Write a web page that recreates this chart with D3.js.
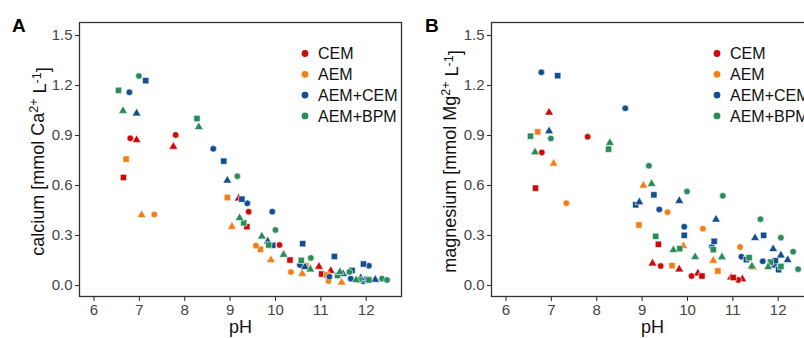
<!DOCTYPE html>
<html>
<head>
<meta charset="utf-8">
<script src="https://cdn.jsdelivr.net/npm/d3@7"></script>
<style>
  html, body { margin: 0; padding: 0; background: #fff; }
  svg { display: block; font-family: "Liberation Sans", Arial, sans-serif; }
</style>
</head>
<body>
<svg id="chart" width="804" height="338"></svg>
<script>
// ---------------- DATA ----------------
const groups = ["CEM", "AEM", "AEM+CEM", "AEM+BPM"];
const groupColors = ["#CC0A0A", "#F37E15", "#124E90", "#2A8C58"];
const xTicks = [6, 7, 8, 9, 10, 11, 12];
const yTicks = [0.0, 0.3, 0.6, 0.9, 1.2, 1.5];
const yTickLabels = ["0.0", "0.3", "0.6", "0.9", "1.2", "1.5"];
// each record: [shape, pH, concentration]  (c = circle, t = triangle, s = square)
const caCEM = [
  ["c", 6.81, 0.88], ["c", 7.81, 0.90], ["c", 9.42, 0.44], ["c", 10.1, 0.24],
  ["t", 6.95, 0.87], ["t", 7.76, 0.83], ["t", 9.2, 0.52], ["t", 10.97, 0.11], ["t", 11.23, 0.085],
  ["s", 6.66, 0.645], ["s", 9.38, 0.35], ["s", 10.33, 0.15], ["s", 11.03, 0.066]
];
const caAEM = [
  ["s", 6.72, 0.755], ["s", 8.95, 0.525], ["s", 9.68, 0.214], ["s", 10.68, 0.116], ["s", 11.14, 0.06],
  ["t", 7.06, 0.42], ["t", 9.05, 0.35], ["t", 9.91, 0.15], ["t", 10.6, 0.068], ["t", 11.47, 0.015],
  ["c", 7.34, 0.423], ["c", 9.58, 0.236], ["c", 10.35, 0.078], ["c", 11.18, 0.024]
];
const caAEMCEM = [
  ["c", 6.79, 1.156], ["c", 8.64, 0.817], ["c", 9.39, 0.49], ["c", 9.94, 0.44], ["c", 10.55, 0.12],
  ["c", 11.2, 0.05], ["c", 11.67, 0.038], ["c", 11.94, 0.022], ["c", 12.07, 0.115],
  ["s", 7.15, 1.226], ["s", 8.87, 0.743], ["s", 9.27, 0.515], ["s", 9.95, 0.238], ["s", 10.61, 0.248],
  ["s", 11.31, 0.171], ["s", 11.7, 0.087], ["s", 11.95, 0.126], ["s", 12.03, 0.034],
  ["t", 6.95, 1.03], ["t", 8.95, 0.627], ["t", 9.84, 0.262], ["t", 10.66, 0.108], ["t", 11.5, 0.066],
  ["t", 11.89, 0.042], ["t", 12.21, 0.032]
];
const caAEMBPM = [
  ["s", 6.55, 1.168], ["s", 8.28, 0.999], ["s", 9.31, 0.373], ["s", 9.86, 0.24], ["s", 10.58, 0.148],
  ["s", 11.38, 0.057], ["s", 11.85, 0.03], ["s", 12.07, 0.03],
  ["c", 7.0, 1.254], ["c", 9.17, 0.653], ["c", 10.01, 0.33], ["c", 10.79, 0.162], ["c", 11.64, 0.078],
  ["c", 12.36, 0.038], ["c", 12.47, 0.03],
  ["t", 6.65, 1.045], ["t", 8.32, 0.948], ["t", 9.22, 0.402], ["t", 9.71, 0.292], ["t", 10.19, 0.182],
  ["t", 10.78, 0.094], ["t", 11.43, 0.078], ["t", 11.79, 0.03]
];
const mgCEM = [
  ["t", 6.96, 1.035], ["t", 9.24, 0.13], ["t", 9.83, 0.094], ["t", 10.24, 0.07], ["t", 10.97, 0.046], ["t", 11.22, 0.035],
  ["c", 6.8, 0.795], ["c", 7.81, 0.889], ["c", 9.42, 0.114], ["c", 10.1, 0.054], ["c", 11.13, 0.03],
  ["s", 6.66, 0.581], ["s", 9.37, 0.244], ["s", 10.33, 0.054], ["s", 11.02, 0.045]
];
const mgAEM = [
  ["s", 6.71, 0.919], ["s", 8.94, 0.36], ["s", 9.67, 0.116], ["s", 10.68, 0.084],
  ["t", 7.06, 0.729], ["t", 9.04, 0.597], ["t", 9.92, 0.234], ["t", 10.58, 0.146], ["t", 11.46, 0.105],
  ["c", 7.34, 0.491], ["c", 9.57, 0.437], ["c", 10.35, 0.338], ["c", 11.17, 0.228]
];
const mgAEMCEM = [
  ["c", 6.79, 1.276], ["c", 8.64, 1.06], ["c", 9.39, 0.453], ["c", 9.94, 0.35], ["c", 10.55, 0.23],
  ["c", 11.2, 0.17], ["c", 11.67, 0.142], ["c", 11.92, 0.12],
  ["s", 7.15, 1.256], ["s", 8.87, 0.481], ["s", 9.27, 0.541], ["s", 9.94, 0.298], ["s", 10.6, 0.262],
  ["s", 11.31, 0.152], ["s", 11.69, 0.298], ["s", 11.95, 0.146], ["s", 12.02, 0.092],
  ["t", 6.96, 0.923], ["t", 8.95, 0.497], ["t", 9.83, 0.505], ["t", 10.64, 0.393], ["t", 11.5, 0.282],
  ["t", 11.9, 0.216], ["t", 12.07, 0.178], ["t", 12.22, 0.15]
];
const mgAEMBPM = [
  ["s", 6.55, 0.893], ["s", 8.27, 0.815], ["s", 9.31, 0.292], ["s", 9.84, 0.218], ["s", 10.58, 0.212],
  ["s", 11.37, 0.164], ["s", 11.84, 0.137], ["s", 12.07, 0.111],
  ["t", 6.65, 0.797], ["t", 8.3, 0.853], ["t", 9.22, 0.607], ["t", 9.7, 0.21], ["t", 10.18, 0.168],
  ["t", 10.77, 0.167], ["t", 11.43, 0.112], ["t", 11.79, 0.108],
  ["c", 7.0, 0.879], ["c", 9.16, 0.715], ["c", 10.0, 0.561], ["c", 10.79, 0.535], ["c", 11.62, 0.395],
  ["c", 12.07, 0.284], ["c", 12.34, 0.2], ["c", 12.45, 0.095]
];

// ---------------- DRAW ----------------
const svg = d3.select("#chart");
const FONT = '"Liberation Sans", Arial, sans-serif';
const shapeMap = {
  c: d3.symbol().type(d3.symbolCircle).size(34),
  s: d3.symbol().type(d3.symbolSquare).size(40),
  t: d3.symbol().type(d3.symbolTriangle).size(34)
};

function drawPanel(cfg) {
  const {x0, x1, y0, y1, label, labelX, ion, series} = cfg;
  const x = d3.scaleLinear().domain([5.68, 12.80]).range([x0, x1]);
  const y = d3.scaleLinear().domain([-0.072, 1.578]).range([y1, y0]);
  const g = svg.append("g");

  const clipId = "clip-" + label;
  svg.append("clipPath").attr("id", clipId)
    .append("rect").attr("x", x0).attr("y", y0).attr("width", x1 - x0).attr("height", y1 - y0);

  // points
  const pg = g.append("g").attr("clip-path", `url(#${clipId})`);
  series.forEach((data, gi) => {
    pg.selectAll(null).data(data).enter().append("path")
      .attr("d", d => shapeMap[d[0]]())
      .attr("transform", d => `translate(${x(d[1])},${y(d[2])})`)
      .attr("fill", groupColors[gi])
      .attr("stroke", "#fff")
      .attr("stroke-width", 0.6);
  });

  // axes
  const xa = g.append("g").attr("transform", `translate(0,${y1})`)
    .call(d3.axisBottom(x).tickValues(xTicks).tickFormat(d3.format("d")).tickSize(4).tickPadding(3));
  const ya = g.append("g").attr("transform", `translate(${x0},0)`)
    .call(d3.axisLeft(y).tickValues(yTicks).tickFormat((d, i) => yTickLabels[i]).tickSize(4).tickPadding(2.5));
  [xa, ya].forEach(a => {
    a.select(".domain").remove();
    a.selectAll(".tick line").attr("stroke", "#333").attr("stroke-width", 1.1);
    a.selectAll(".tick text").attr("fill", "#444").style("font-size", "15px").style("font-family", FONT);
  });

  // border
  g.append("rect").attr("x", x0 + 0.5).attr("y", y0 + 0.5)
    .attr("width", x1 - x0 - 1).attr("height", y1 - y0 - 1)
    .attr("fill", "none").attr("stroke", "#333").attr("stroke-width", 1.3);

  // x title
  g.append("text").attr("x", (x0 + x1) / 2).attr("y", 333)
    .attr("text-anchor", "middle").style("font-size", "18px").attr("fill", "#111")
    .text("pH");

  // y title
  const yt = g.append("text")
    .attr("transform", `translate(${x0 - 35},${(y0 + y1) / 2 + 2}) rotate(-90)`)
    .attr("text-anchor", "middle").style("font-size", "18px").attr("fill", "#111");
  yt.append("tspan").text(`${ion.name} [mmol ${ion.sym}`);
  yt.append("tspan").attr("dy", "-0.45em").style("font-size", "12.5px").text(ion.charge);
  yt.append("tspan").attr("dy", "0.45em").text(" L");
  yt.append("tspan").attr("dy", "-0.45em").style("font-size", "12.5px").text("-1");
  yt.append("tspan").attr("dy", "0.45em").text("]");

  // panel label
  svg.append("text").attr("x", labelX).attr("y", 32)
    .style("font-size", "19px").style("font-weight", "bold").attr("fill", "#000")
    .text(label);

  // legend
  const lg = g.append("g");
  groups.forEach((name, i) => {
    const cy = 53.5 + i * 20.8;
    lg.append("circle").attr("cx", x0 + 226).attr("cy", cy).attr("r", 3.4)
      .attr("fill", groupColors[i]);
    lg.append("text").attr("x", x0 + 239).attr("y", cy + 5.6)
      .style("font-size", "16px").attr("fill", "#111").text(name);
  });
}

drawPanel({
  x0: 79, x1: 402, y0: 22, y1: 297, label: "A", labelX: 12,
  ion: {name: "calcium", sym: "Ca", charge: "2+"},
  series: [caCEM, caAEM, caAEMCEM, caAEMBPM]
});
drawPanel({
  x0: 491, x1: 814, y0: 22, y1: 297, label: "B", labelX: 425,
  ion: {name: "magnesium", sym: "Mg", charge: "2+"},
  series: [mgCEM, mgAEM, mgAEMCEM, mgAEMBPM]
});
</script>
</body>
</html>
